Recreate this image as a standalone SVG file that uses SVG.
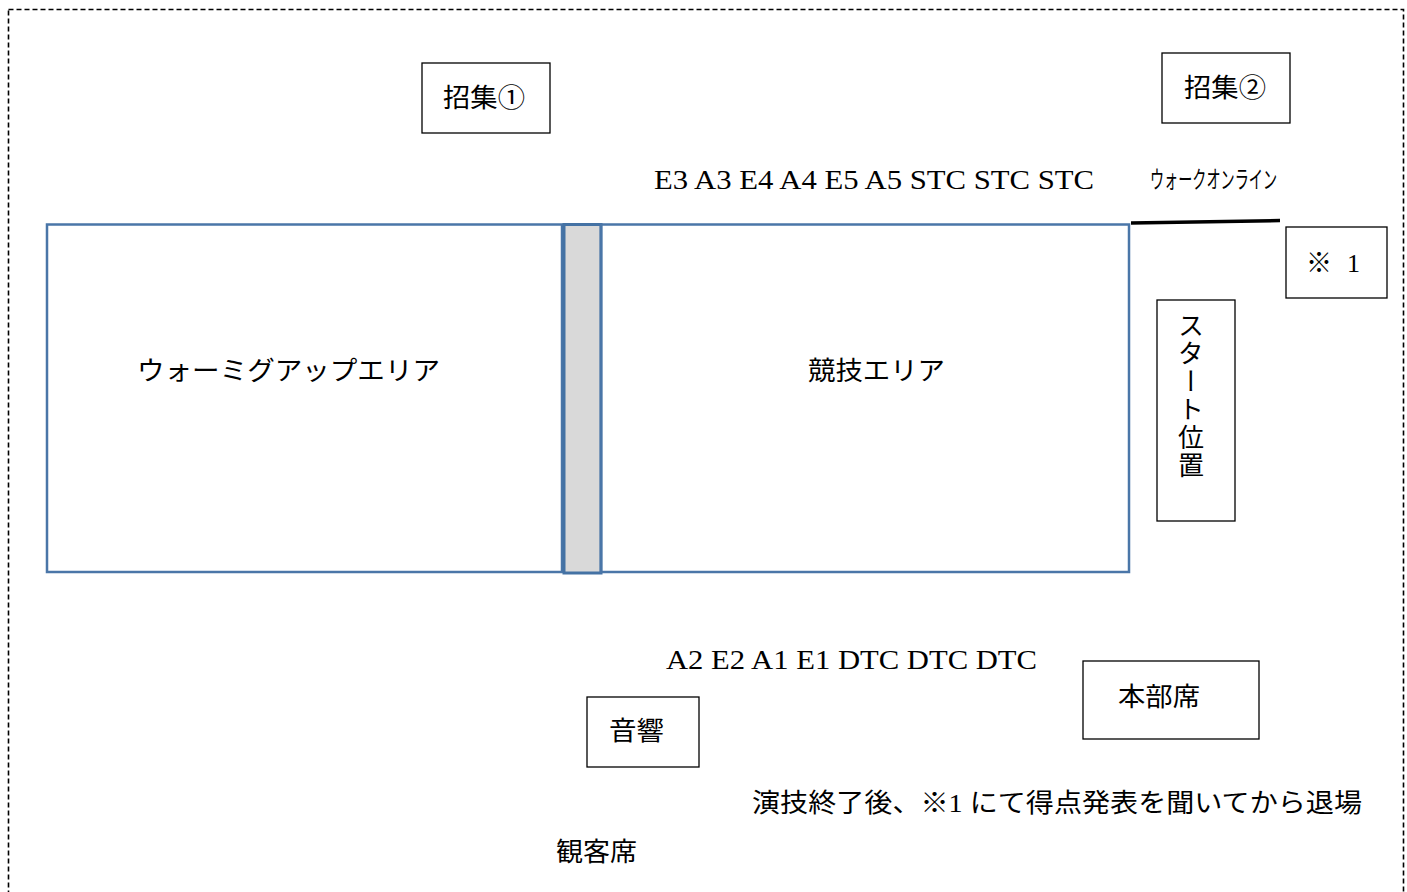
<svg xmlns="http://www.w3.org/2000/svg" width="1407" height="892" viewBox="0 0 1407 892">
<style>
.t{font-family:"Liberation Serif","Noto Sans CJK JP",serif;fill:#000}
.j{font-size:26px}
.box{fill:#fff;stroke:#000;stroke-width:1.3}
.area{fill:none;stroke:#4a76a8;stroke-width:2.5}
</style>
<rect width="1407" height="892" fill="#fff"/>
<rect x="8.5" y="9.5" width="1395" height="900" fill="none" stroke="#000" stroke-width="1.6" stroke-dasharray="5,3"/>
<g id="warmup">
<rect class="area" x="47" y="224.5" width="515" height="347.5"/>
<text class="t j" x="137" y="380" textLength="303" lengthAdjust="spacingAndGlyphs">ウォーミグアップエリア</text>
</g>
<g id="divider">
<rect x="564" y="224.5" width="37" height="348.5" fill="#d9d9d9" stroke="#4472a4" stroke-width="3"/>
</g>
<g id="competition">
<rect class="area" x="601" y="224.5" width="528" height="347.5"/>
<text class="t j" x="808" y="380" textLength="137" lengthAdjust="spacingAndGlyphs">競技エリア</text>
</g>
<g id="shoshu1">
<rect class="box" x="422" y="63" width="128" height="70"/>
<text class="t j" x="443" y="107" textLength="82" lengthAdjust="spacingAndGlyphs">招集①</text>
</g>
<g id="shoshu2">
<rect class="box" x="1162" y="53" width="128" height="70"/>
<text class="t j" x="1184" y="97" textLength="82" lengthAdjust="spacingAndGlyphs">招集②</text>
</g>
<g id="order-top">
<text class="t" x="654" y="189" font-size="27" textLength="440" lengthAdjust="spacingAndGlyphs">E3 A3 E4 A4 E5 A5 STC STC STC</text>
</g>
<g id="walkon">
<text class="t" x="1150" y="188" font-size="24" textLength="127" lengthAdjust="spacingAndGlyphs">ウォークオンライン</text>
</g>
<g id="note1">
<rect class="box" x="1286" y="227" width="101" height="71"/>
<text class="t j" x="1306" y="272" textLength="54" lengthAdjust="spacing">※ 1</text>
</g>
<g id="start">
<rect class="box" x="1157" y="300" width="78" height="221"/>
<text class="t j" x="1188" y="312" style="writing-mode:vertical-rl" textLength="166" lengthAdjust="spacing">スタート位置</text>
</g>
<g id="order-bottom">
<text class="t" x="666" y="669" font-size="27" textLength="371" lengthAdjust="spacingAndGlyphs">A2 E2 A1 E1 DTC DTC DTC</text>
</g>
<g id="honbu">
<rect class="box" x="1083" y="661" width="176" height="78"/>
<text class="t j" x="1118" y="706" textLength="82" lengthAdjust="spacingAndGlyphs">本部席</text>
</g>
<g id="onkyo">
<rect class="box" x="587" y="697" width="112" height="70"/>
<text class="t j" x="609" y="740" textLength="55" lengthAdjust="spacingAndGlyphs">音響</text>
</g>
<g id="message">
<text class="t j" x="752" y="812" textLength="610" lengthAdjust="spacingAndGlyphs">演技終了後、※1 にて得点発表を聞いてから退場</text>
</g>
<g id="audience">
<text class="t j" x="556" y="861" textLength="81" lengthAdjust="spacingAndGlyphs">観客席</text>
</g>
<g id="connectors">
<line x1="1131" y1="223" x2="1280" y2="220.5" stroke="#000" stroke-width="3.5"/>
</g>
</svg>
